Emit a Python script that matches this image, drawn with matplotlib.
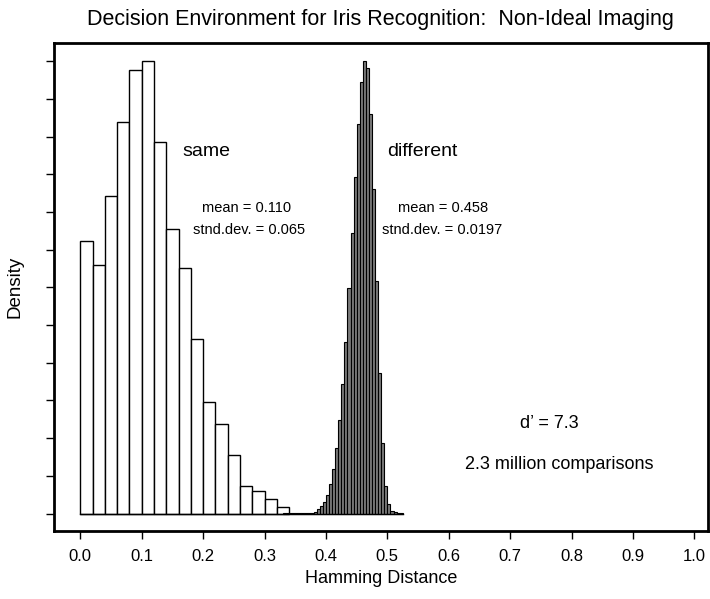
import matplotlib
matplotlib.use("Agg")
import matplotlib.pyplot as plt
import numpy as np

plt.rcParams['font.family'] = ['Liberation Sans', 'DejaVu Sans']

# "same" (authentic) histogram: bin left edges and heights
same_edges = [0.00, 0.02, 0.04, 0.06, 0.08, 0.10, 0.12, 0.14, 0.16, 0.18,
              0.20, 0.22, 0.24, 0.26, 0.28, 0.30, 0.32]
same_heights = [7.22, 6.58, 8.43, 10.38, 11.77, 12.01, 9.86, 7.55, 6.50, 4.64,
                2.96, 2.37, 1.56, 0.74, 0.61, 0.375, 0.18]
same_width = 0.02

# "different" (impostor) histogram
diff_edges = [0.330, 0.335, 0.340, 0.345, 0.350, 0.355, 0.360, 0.365, 0.370, 0.375,
              0.380, 0.385, 0.390, 0.395, 0.400, 0.405, 0.410, 0.415, 0.420, 0.425,
              0.430, 0.435, 0.440, 0.445, 0.450, 0.455, 0.460, 0.465, 0.470, 0.475,
              0.480, 0.485, 0.490, 0.495, 0.500, 0.505, 0.510, 0.515, 0.520]
diff_heights = [0.003, 0.003, 0.004, 0.004, 0.005, 0.006, 0.008, 0.010, 0.015, 0.025,
                0.05, 0.11, 0.19, 0.30, 0.50, 0.77, 1.18, 1.73, 2.48, 3.43,
                4.56, 5.97, 7.43, 8.92, 10.33, 11.45, 12.0, 11.81, 10.59, 8.60,
                6.17, 3.72, 1.86, 0.73, 0.24, 0.08, 0.03, 0.015, 0.006]
diff_width = 0.005

x_ticks = [0.0, 0.1, 0.2, 0.3, 0.4, 0.5, 0.6, 0.7, 0.8, 0.9, 1.0]
x_tick_labels = ["0.0", "0.1", "0.2", "0.3", "0.4", "0.5", "0.6", "0.7", "0.8", "0.9", "1.0"]
y_ticks = list(range(0, 13))

fig = plt.figure(figsize=(7.10, 5.99), dpi=100)
ax = fig.add_axes([0.076, 0.1135, 0.921, 0.8147])

ax.bar(same_edges, same_heights, width=same_width, align='edge',
       facecolor='white', edgecolor='black', linewidth=1.0)
ax.bar(diff_edges, diff_heights, width=diff_width, align='edge',
       facecolor='#7a7a7a', edgecolor='black', linewidth=0.8)
# baseline
ax.plot([0.0, 0.525], [0, 0], color='black', linewidth=1.0)

ax.set_xlim(-0.043, 1.022)
ax.set_ylim(-0.464, 12.48)
ax.set_xticks(x_ticks)
ax.set_xticklabels(x_tick_labels, fontsize=12)
ax.set_yticks(y_ticks)
ax.set_yticklabels([])
ax.tick_params(direction='out', length=6, width=1.0, pad=7)
for s in ax.spines.values():
    s.set_linewidth(2.0)

ax.set_xlabel("Hamming Distance", fontsize=13, labelpad=4)
ax.set_ylabel("Density", fontsize=13.5, labelpad=9)
ax.set_title("Decision Environment for Iris Recognition:  Non-Ideal Imaging",
             fontsize=15.5, pad=13)

ax.text(0.206, 9.59, "same", fontsize=14, ha='center', va='center')
ax.text(0.557, 9.59, "different", fontsize=14, ha='center', va='center')
ax.text(0.271, 8.10, "mean = 0.110", fontsize=10.5, ha='center', va='center')
ax.text(0.275, 7.52, "stnd.dev. = 0.065", fontsize=10.5, ha='center', va='center')
ax.text(0.590, 8.10, "mean = 0.458", fontsize=10.5, ha='center', va='center')
ax.text(0.590, 7.52, "stnd.dev. = 0.0197", fontsize=10.5, ha='center', va='center')
ax.text(0.763, 2.40, "d\u2019 = 7.3", fontsize=13, ha='center', va='center')
ax.text(0.780, 1.31, "2.3 million comparisons", fontsize=13, ha='center', va='center')

fig.savefig("out.png", dpi=100)
